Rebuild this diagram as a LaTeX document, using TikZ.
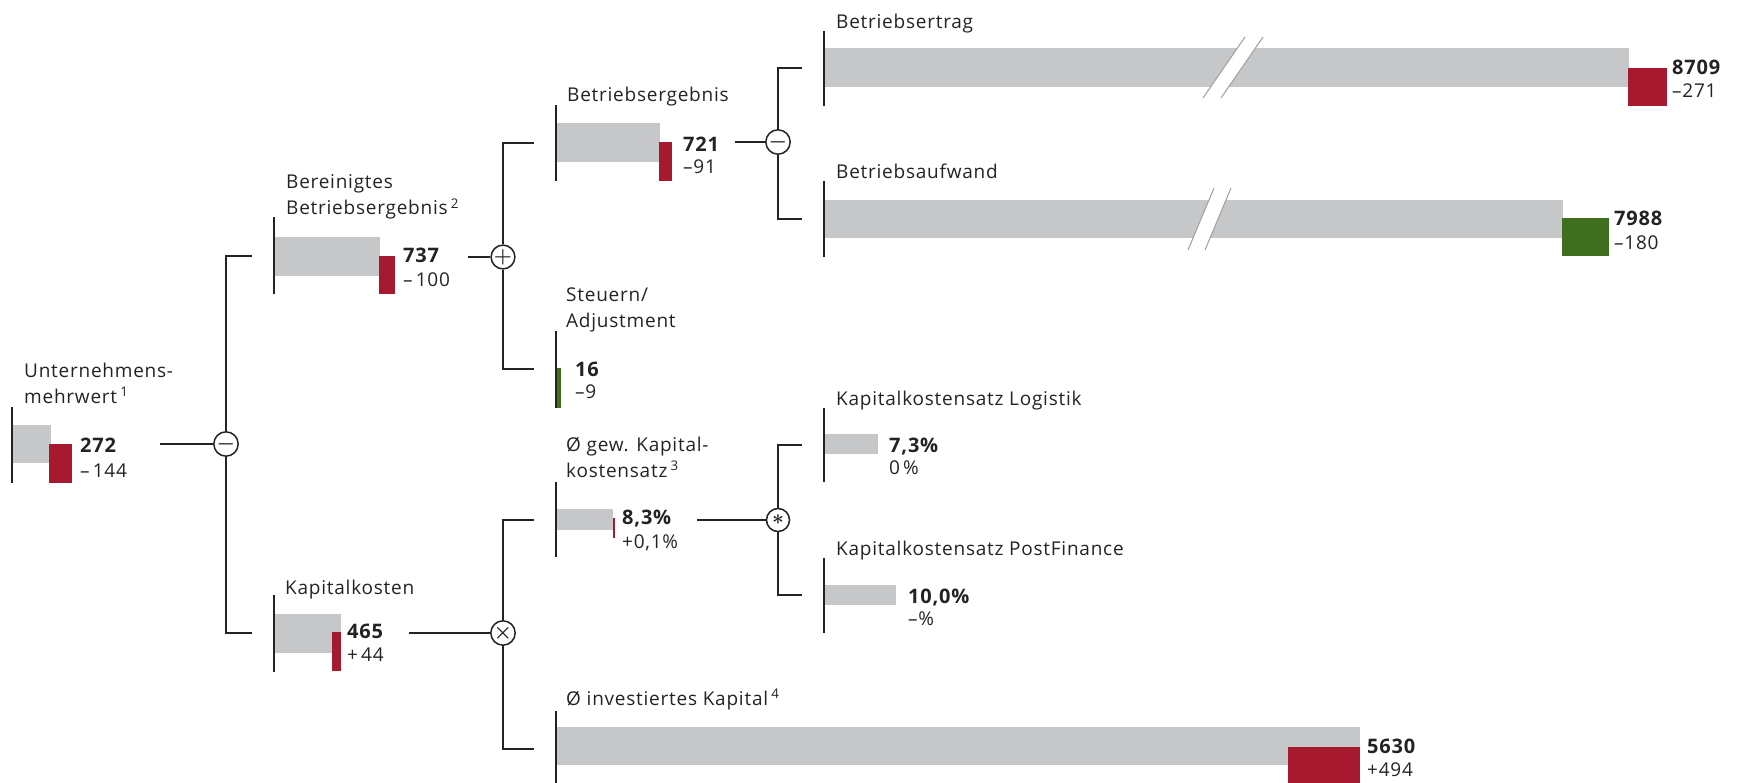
\documentclass[tikz,border=0pt]{standalone}
\usepackage{fontspec}
\setmainfont{Open Sans}[LetterSpace=4]
\usetikzlibrary{positioning}
\definecolor{barred}{RGB}{166,25,46}
\definecolor{bargreen}{RGB}{62,110,30}
\definecolor{bargrey}{RGB}{198,199,201}
\definecolor{ink}{RGB}{35,35,35}
\begin{document}
\begin{tikzpicture}[x=1pt,y=-1pt,font=\fontsize{19}{26}\selectfont,color=ink]
\tikzstyle{op}=[draw,circle,line width=1.5pt,inner sep=0pt,minimum size=23pt,fill=white,font=\fontsize{20}{20}\selectfont\boldmath]
\tikzstyle{conn}=[line width=1.5pt]
\tikzstyle{axis}=[line width=1.8pt]
\tikzstyle{lab}=[anchor=base west,inner sep=0pt,align=left,font=\fontsize{19}{26}\selectfont]
\tikzstyle{val}=[anchor=base west,inner sep=0pt,font=\fontsize{20}{26}\selectfont\bfseries]
\tikzstyle{dif}=[anchor=base west,inner sep=0pt]
\tikzstyle{brk}=[bargrey!80!black,line width=1pt]
\useasboundingbox (0,0) rectangle (1737,783);

% Unternehmensmehrwert
\fill[bargrey] (12,425) rectangle (51,463);
\fill[barred] (49,444) rectangle (72,483);
\draw[axis] (12,407) -- (12,483);
\node[lab] (Ulab) at (24,403) {Unternehmens-\\mehrwert\,\textsuperscript{1}};
\node[val] (Uval) at (80,452) {272};
\node[dif] (Udif) at (80,477) {–\,144};
\coordinate (Uout) at (160,444);

% Bereinigtes Betriebsergebnis
\fill[bargrey] (274,237) rectangle (380,276);
\fill[barred] (379,256) rectangle (395,294);
\draw[axis] (274,217) -- (274,294);
\node[lab] (Blab) at (286,215) {Bereinigtes\\Betriebsergebnis\,\textsuperscript{2}};
\node[val] (Bval) at (403,263) {737};
\node[dif] (Bdif) at (403,287) {–\,100};
\coordinate (Bin) at (252,256);
\coordinate (Bout) at (468,257);

% Kapitalkosten
\fill[bargrey] (274,614) rectangle (341,653);
\fill[barred] (332,632) rectangle (341,671);
\draw[axis] (274,595) -- (274,672);
\node[lab] (Klab) at (285,594) {Kapitalkosten};
\node[val] (Kval) at (347,638) {465};
\node[dif] (Kdif) at (347,661) {+\,44};
\coordinate (Kin) at (252,633);
\coordinate (Kout) at (409,633);

% Betriebsergebnis
\fill[bargrey] (556,123) rectangle (660,162);
\fill[barred] (659,142) rectangle (672,181);
\draw[axis] (556,105) -- (556,181);
\node[lab] (BElab) at (567,102) {Betriebsergebnis};
\node[val] (BEval) at (683,152) {721};
\node[dif] (BEdif) at (683,174) {–91};
\coordinate (BEin) at (534,143);
\coordinate (BEout) at (735,142);

% Steuern / Adjustment
\fill[bargreen] (556,368) rectangle (561,408);
\draw[axis] (556,331) -- (556,408);
\node[lab] (STlab) at (566,328) {Steuern/\\Adjustment};
\node[val] (STval) at (575,377) {16};
\node[dif] (STdif) at (575,398) {–9};
\coordinate (STin) at (534,369);

% Betriebsertrag
\fill[bargrey] (824,48) rectangle (1629,87);
\fill[white] (1203,98) -- (1245,37) -- (1263,37) -- (1221,98) -- cycle;
\draw[brk] (1203,98) -- (1245,37) (1221,98) -- (1263,37);
\fill[barred] (1628,68) rectangle (1667,106);
\draw[axis] (824,31) -- (824,106);
\node[lab] (BTlab) at (836,29) {Betriebsertrag};
\node[val] (BTval) at (1672,75) {8709};
\node[dif] (BTdif) at (1672,98) {–271};
\coordinate (BTin) at (802,68);

% Betriebsaufwand
\fill[bargrey] (824,200) rectangle (1563,238);
\fill[white] (1188,250) -- (1214,188) -- (1231,188) -- (1205,250) -- cycle;
\draw[brk] (1188,250) -- (1214,188) (1205,250) -- (1231,188);
\fill[bargreen] (1562,218) rectangle (1609,256);
\draw[axis] (824,181) -- (824,257);
\node[lab] (BAlab) at (836,179) {Betriebsaufwand};
\node[val] (BAval) at (1614,226) {7988};
\node[dif] (BAdif) at (1614,250) {–180};
\coordinate (BAin) at (802,219);

% gew. Kapitalkostensatz
\fill[bargrey] (556,509) rectangle (613,530);
\fill[barred] (613,518) rectangle (615,538);
\draw[axis] (556,482) -- (556,557);
\node[lab] (KGlab) at (566,477) {Ø gew. Kapital-\\kostensatz\,\textsuperscript{3}};
\node[val] (KGval) at (622,524) {8,3\%};
\node[dif] (KGdif) at (622,548) {+0,1\%};
\coordinate (KGin) at (534,520);
\coordinate (KGout) at (697,520);

% investiertes Kapital
\fill[bargrey] (556,727) rectangle (1360,765);
\fill[barred] (1288,747) rectangle (1360,783);
\draw[axis] (556,711) -- (556,783);
\node[lab] (IKlab) at (566,705) {Ø investiertes Kapital\,\textsuperscript{4}};
\node[val] (IKval) at (1367,753) {5630};
\node[dif] (IKdif) at (1367,776) {+494};
\coordinate (IKin) at (534,749);

% Kapitalkostensatz Logistik
\fill[bargrey] (824,434) rectangle (878,454);
\draw[axis] (824,408) -- (824,482);
\node[lab] (KLlab) at (836,405) {Kapitalkostensatz Logistik};
\node[val] (KLval) at (889,452) {7,3\%};
\node[dif] (KLdif) at (889,474) {0\,\%};
\coordinate (KLin) at (802,445);

% Kapitalkostensatz PostFinance
\fill[bargrey] (824,585) rectangle (896,605);
\draw[axis] (824,558) -- (824,633);
\node[lab] (KPlab) at (836,555) {Kapitalkostensatz PostFinance};
\node[val] (KPval) at (908,603) {10,0\%};
\node[dif] (KPdif) at (908,625) {–\%};
\coordinate (KPin) at (802,595);

% operators
\node[op] (minusA) at (226,444) {$-$};
\node[op] (plusB) at (503,257) {$+$};
\node[op] (timesK) at (503,633) {$\times$};
\node[op] (minusBE) at (778,142) {$-$};
\node[op] (starKG) at (778,520) {$\ast$};

\draw[conn] (Uout) -- (Uout -| minusA.west);
\draw[conn] (minusA) |- (Bin);
\draw[conn] (minusA) |- (Kin);
\draw[conn] (Bout) -- (Bout -| plusB.west);
\draw[conn] (plusB) |- (BEin);
\draw[conn] (plusB) |- (STin);
\draw[conn] (Kout) -- (Kout -| timesK.west);
\draw[conn] (timesK) |- (KGin);
\draw[conn] (timesK) |- (IKin);
\draw[conn] (BEout) -- (BEout -| minusBE.west);
\draw[conn] (minusBE) |- (BTin);
\draw[conn] (minusBE) |- (BAin);
\draw[conn] (KGout) -- (KGout -| starKG.west);
\draw[conn] (starKG) |- (KLin);
\draw[conn] (starKG) |- (KPin);
\end{tikzpicture}
\end{document}
